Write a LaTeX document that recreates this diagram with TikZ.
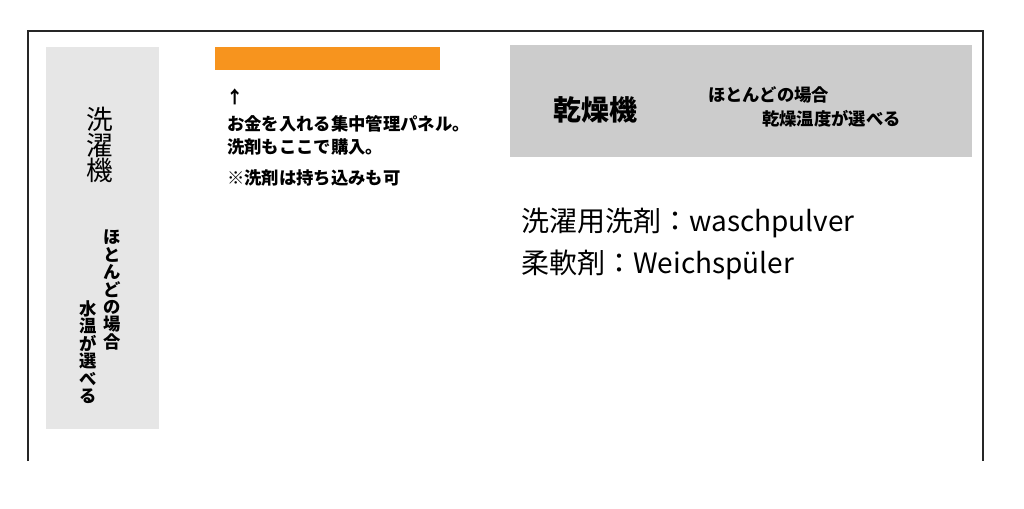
\documentclass[tikz,border=0pt]{standalone}
\usepackage{fontspec}
\newfontfamily\jp{Noto Sans CJK JP}
\definecolor{panelorange}{HTML}{F7941E}
\definecolor{washgray}{HTML}{E6E6E6}
\definecolor{drygray}{HTML}{CCCCCC}

\begin{document}
\begin{tikzpicture}[x=0.75pt, y=-0.75pt,
		big/.style={font=\jp\fontsize{21}{21}\selectfont, inner sep=0pt},
		hand/.style={font=\jp\bfseries\fontsize{13}{13.1}\selectfont, inner sep=0pt},
		tate/.style={align=center, inner sep=0pt}]
	\useasboundingbox (0,0) rectangle (1024,508);
	% frame of the room
	\draw[line width=1.5pt, black!85] (28,461) -- (28,31) -- (983,31) -- (983,461);
	% machines and panel
	\fill[washgray] (46,47) rectangle (159,429);
	\fill[panelorange] (215,47) rectangle (440,70);
	\fill[drygray] (510,45) rectangle (972,157);
	% washer
	\node[tate, font=\jp\fontsize{20}{19}\selectfont] (washer) at (100,145) {洗\\濯\\機};
	\node[tate, hand] (washA) at (112,290) {ほ\\と\\ん\\ど\\の\\場\\合};
	\node[tate, hand] (washB) at (88,352) {水\\温\\が\\選\\べ\\る};
	% panel notes
	\node[hand, anchor=west] (arrow) at (226,97) {↑};
	\node[hand, anchor=west] (panel) at (227,124) {お金を入れる集中管理パネル。};
	\node[hand, anchor=west] (buy) at (227,147) {洗剤もここで購入。};
	\node[hand, anchor=west] (own) at (227,178) {※洗剤は持ち込みも可};
	% dryer
	\node[big, font=\jp\bfseries\fontsize{21}{21}\selectfont, anchor=west] (dryer) at (553,110) {乾燥機};
	\node[hand, anchor=west] (dryA) at (708,95) {ほとんどの場合};
	\node[hand, anchor=west] (dryB) at (762,119) {乾燥温度が選べる};
	% words
	\node[big, anchor=west] (powder) at (521,223) {洗濯用洗剤：waschpulver};
	\node[big, anchor=west] (soft) at (521,265) {柔軟剤：Weichspüler};
\end{tikzpicture}
\end{document}
